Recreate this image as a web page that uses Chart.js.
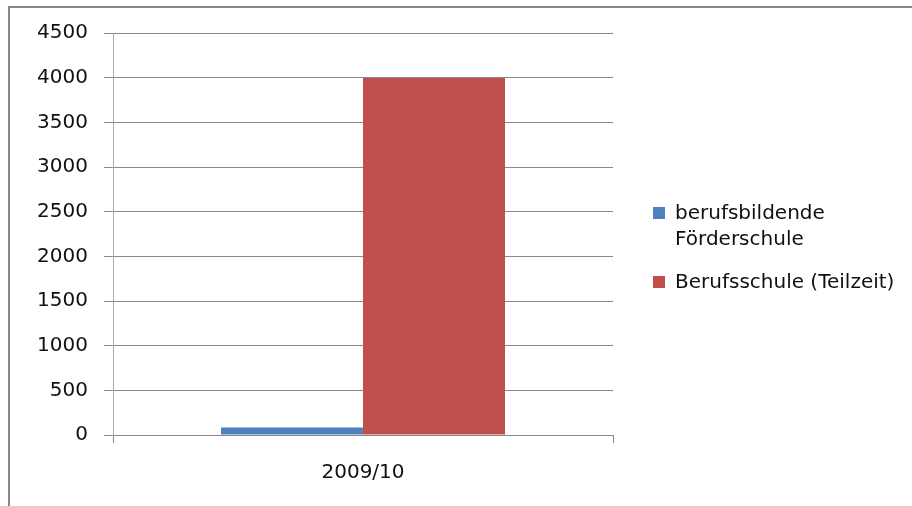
<!DOCTYPE html>
<html>
<head>
<meta charset="utf-8">
<script src="https://cdn.jsdelivr.net/npm/chart.js@4"></script>
<style>
    body { margin: 0; background: #ffffff; overflow: hidden; }
    #wrap { position: absolute; left: 0; top: 0; width: 912px; height: 506px; }
    #frame { position: absolute; left: 8px; top: 6px; width: 920px; height: 520px;
             border-top: 2px solid #878787; border-left: 2px solid #878787; }
    #legend { position: absolute; left: 653px; top: 199px; font-family: "DejaVu Sans"; font-size: 20px;
              color: #111111; line-height: 26px; }
    .item { position: relative; padding-left: 22px; margin-bottom: 17px; }
    .box { position: absolute; left: 0; top: 8px; width: 12px; height: 12px; }
</style>
</head>
<body>
<div id="wrap">
    <div id="frame"></div>
    <canvas id="schoolChart" width="912" height="506"></canvas>
    <div id="legend"></div>
</div>
<script>
var years = ['2009/10']
var seriesNames = [['berufsbildende', 'Förderschule'], ['Berufsschule (Teilzeit)']]
var foerderschule = [85]
var berufsschule = [3995]
var yTicks = [0, 500, 1000, 1500, 2000, 2500, 3000, 3500, 4000, 4500]
var colors = ['#4F81BD', '#C0504D']

document.addEventListener('DOMContentLoaded', function() {

    var ctx = document.getElementById('schoolChart');
    new Chart(ctx, {
        type: 'bar',
        data: {
            labels: years,
            datasets: [
                {
                    label: seriesNames[0].join(' '),
                    data: foerderschule,
                    backgroundColor: colors[0]
                },
                {
                    label: seriesNames[1].join(' '),
                    data: berufsschule,
                    backgroundColor: colors[1]
                }
            ]
        },
        options: {
            responsive: false,
            animation: false,
            layout: {
                padding: { left: 0, top: 33, right: 299, bottom: 21 }
            },
            datasets: {
                bar: {
                    categoryPercentage: 0.568,
                    barPercentage: 1
                }
            },
            scales: {
                x: {
                    offset: true,
                    grid: {
                        offset: true,
                        drawOnChartArea: false,
                        color: '#888888',
                        tickLength: 8
                    },
                    border: { color: '#888888' },
                    ticks: {
                        color: '#111111',
                        padding: 18,
                        font: { family: 'DejaVu Sans', size: 20 }
                    },
                    afterFit: function(scale) { scale.height = 50 }
                },
                y: {
                    min: 0,
                    max: 4500,
                    afterBuildTicks: function(scale) {
                        scale.ticks = yTicks.map(function(v) { return { value: v } })
                    },
                    grid: {
                        color: '#888888',
                        tickLength: 9
                    },
                    border: { color: '#aaaaaa' },
                    ticks: {
                        color: '#111111',
                        padding: 16,
                        font: { family: 'DejaVu Sans', size: 20 },
                        callback: function(value) { return String(value) }
                    },
                    afterFit: function(scale) { scale.width = 113 }
                }
            },
            plugins: {
                legend: { display: false },
                tooltip: { enabled: false }
            }
        }
    });

    // legend on the right, first name wraps onto two lines
    var legend = document.getElementById('legend')
    for(i=0; i < seriesNames.length; i++) {
        var item = document.createElement('div')
        item.className = 'item'
        item.innerHTML = '<span class="box" style="background:' + colors[i] + '"></span>' + seriesNames[i].join('<br>')
        legend.appendChild(item)
    }
})
</script>
</body>
</html>
